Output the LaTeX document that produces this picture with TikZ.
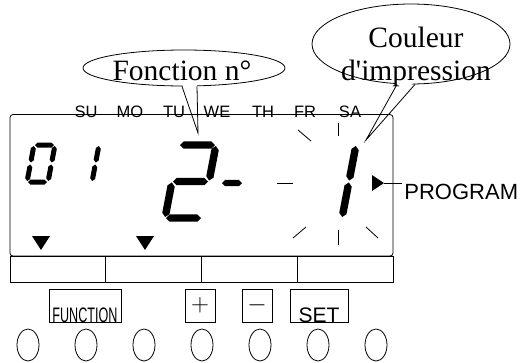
\documentclass[tikz,border=0pt]{standalone}
\usepackage{fontspec}
\setmainfont{Liberation Serif}
\setsansfont{Liberation Sans}
\usetikzlibrary{calc,shapes.geometric}
% one lcd segment: half width, from, to
\newcommand{\lcdseg}[3]{%
  \fill ($(#2)!1pt!(#3)$) -- ($(#2)!1pt+#1pt!(#3)!#1pt!90:(#3)$)
    -- ($(#3)!1pt+#1pt!(#2)!#1pt!-90:(#2)$) -- ($(#3)!1pt!(#2)$)
    -- ($(#3)!1pt+#1pt!(#2)!#1pt!90:(#2)$)
    -- ($(#2)!1pt+#1pt!(#3)!#1pt!-90:(#3)$) -- cycle;}

\begin{document}
\begin{tikzpicture}[x=1pt,y=-1pt,line width=0.8pt,
  day/.style={font=\sffamily\fontsize{16.5}{19}\selectfont,anchor=base,inner sep=0},
  bubble/.style={draw,ellipse,inner sep=0},
  btn/.style={draw,rectangle,inner sep=0}]
\useasboundingbox (0,0) rectangle (522,362);
% callouts
\node[bubble,minimum width=202,minimum height=36] (fonc) at (184,68) {};
\node[bubble,minimum width=198,minimum height=80] (coul) at (411,44) {};
\coordinate (fonctip) at (198,133);
\coordinate (coultip) at (366,140);
\fill[white] ($(fonc.south)+(-2,-4)$) -- (fonctip) -- ($(fonc.south)+(13,-4)$) -- cycle;
\fill[white] ($(coul.south)+(-14,-4)$) -- (coultip) -- ($(coul.south)+(4,-4)$) -- cycle;
\draw ($(fonc.south)+(-2,0)$) -- (fonctip) -- ($(fonc.south)+(13,0)$);
\draw ($(coul.south)+(-14,0)$) -- (coultip) -- ($(coul.south)+(4,0)$);
\node[anchor=base,inner sep=0,font=\fontsize{29.5}{33}\selectfont] (fonctxt) at (182,80) {Fonction n°};
\node[align=center,inner sep=0,font=\fontsize{29.5}{33}\selectfont] (coultxt) at (416,57) {Couleur\\d\textquotesingle impression};
% display
\draw[rounded corners=3] (10,114.5) rectangle (393,256);
\foreach \x/\d in {86/SU,130/MO,174/TU,217/WE,263/TH,305/FR,350/SA}
  \node[day] (d\d) at (\x,117) {\d};
\foreach \i in {0,1,2,3}
  \draw (10+95.75*\i,256) rectangle +(95.75,26);
% digits 0 1
\foreach \xa/\ya/\xb/\yb in {34/145/55/145, 55/145/51.5/163.5, 51.5/163.5/48/182,
  27/182/48/182, 30.5/163.5/27/182, 34/145/30.5/163.5, 99/145/95.5/163.5, 95.5/163.5/92/182}
  {\lcdseg{2.5}{\xa,\ya}{\xb,\yb}}
% digit 2, dot, digit 1
\foreach \xa/\ya/\xb/\yb in {179/145/216/145, 216/145/209/181.5, 172/181.5/209/181.5,
  172/181.5/165/218, 165/218/202/218, 356/145/349/181.5, 349/181.5/342/218}
  {\lcdseg{3.7}{\xa,\ya}{\xb,\yb}}
\lcdseg{3.2}{221,183}{243,183}
% blink marks
\foreach \xa/\ya/\xb/\yb in {338/123/338/136, 338/230/338/245, 298/130/311/141,
  293/238/306/227, 366/227/378/238, 277/183/293/183}
  \draw (\xa,\ya) -- (\xb,\yb);
% markers
\fill (32,236) -- (50,236) -- (41,250) -- cycle;
\fill (136,236) -- (154,236) -- (145,250) -- cycle;
\fill (372,175) -- (384,183) -- (372,191) -- cycle;
\coordinate (progtip) at (384,183);
\node[anchor=base west,inner sep=2pt,font=\sffamily\fontsize{22}{26}\selectfont] (prog) at (402,199) {PROGRAM};
\draw (progtip) -- (progtip -| prog.west);
% keys
\node[btn,minimum width=72,minimum height=33] (fnbtn) at (85,305.5) {};
\node[btn,minimum width=30,minimum height=33] (plusbtn) at (200,305.5) {};
\node[btn,minimum width=30,minimum height=33] (minusbtn) at (257,305.5) {};
\node[btn,minimum width=58,minimum height=33] (setbtn) at (319,305.5) {};
\node[anchor=base,inner sep=0,xscale=.6,font=\sffamily\fontsize{21}{24}\selectfont] (fntxt) at (fnbtn.south) {FUNCTION};
\node[inner sep=0,font=\fontsize{28}{28}\selectfont] (plustxt) at (plusbtn) {$+$};
\node[inner sep=0,font=\fontsize{28}{28}\selectfont] (minustxt) at (minusbtn) {$-$};
\node[anchor=base,inner sep=0,font=\sffamily\fontsize{21}{24}\selectfont] (settxt) at (setbtn.south) {SET};
\foreach \x in {28,86,144,202,260,318,376}
  \draw (\x,345) ellipse [x radius=11,y radius=16];
\end{tikzpicture}
\end{document}
